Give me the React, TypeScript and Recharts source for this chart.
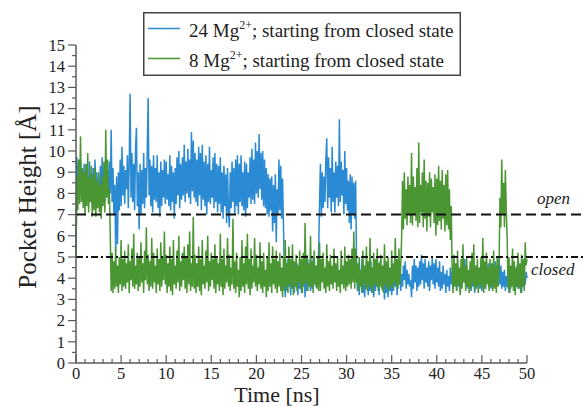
import React from 'react'
import { LineChart, Line, XAxis, YAxis, ReferenceLine, Legend } from 'recharts'

// pocket height [Å] sampled every 0.1 ns, 0..50 ns (one row = 1 ns)
const STEP = 0.1

// 24 Mg2+, starting from closed state
const mg24 = [
  5.0, 9.7, 8.1, 9.3, 7.9, 9.6, 8.4, 9.0, 7.7, 9.4,
  8.0, 9.1, 7.6, 8.8, 7.8, 9.5, 8.2, 8.9, 7.5, 9.2,
  7.9, 9.6, 8.3, 9.0, 7.4, 8.7, 8.0, 9.3, 7.7, 9.7,
  8.1, 8.9, 7.6, 9.4, 8.2, 9.1, 7.8, 9.5, 8.0, 11.0,
  7.6, 9.2, 7.0, 8.4, 5.3, 8.8, 5.6, 9.0, 7.2, 9.6,
  7.4, 10.2, 7.9, 9.3, 7.5, 9.1, 8.2, 9.8, 7.3, 9.5,
  12.7, 7.8, 9.9, 7.6, 9.4, 7.2, 10.1, 11.1, 7.4, 9.0,
  6.3, 9.4, 7.0, 9.1, 7.5, 9.9, 7.3, 9.2, 7.8, 10.0,
  12.5, 7.9, 9.6, 7.4, 9.3, 7.1, 9.8, 7.7, 9.2, 7.6,
  9.8, 7.3, 9.0, 6.9, 9.5, 7.4, 9.1, 7.8, 9.6, 7.5,
  9.5, 7.7, 8.9, 7.4, 9.8, 7.2, 9.3, 7.6, 9.0, 6.8,
  9.2, 7.5, 9.7, 7.9, 10.0, 7.3, 9.4, 7.7, 9.7, 7.9,
  10.3, 7.6, 9.5, 8.0, 10.1, 7.8, 9.6, 7.5, 10.9, 8.1,
  10.5, 7.8, 9.9, 7.6, 9.6, 7.4, 10.2, 7.9, 9.9, 7.2,
  10.3, 7.7, 9.5, 7.4, 9.8, 7.0, 9.4, 7.6, 10.2, 7.5,
  9.1, 7.8, 9.7, 7.3, 9.9, 7.6, 9.4, 7.1, 9.3, 7.5,
  9.7, 7.1, 9.0, 6.8, 9.3, 7.4, 8.9, 6.6, 9.2, 7.2,
  6.4, 9.0, 7.3, 9.5, 7.6, 9.2, 7.0, 9.6, 7.4, 9.8,
  7.0, 9.4, 7.6, 9.8, 7.4, 9.0, 7.2, 9.5, 6.9, 9.4,
  7.3, 9.0, 7.8, 9.7, 7.5, 10.1, 7.7, 9.6, 7.5, 10.4,
  8.0, 10.0, 7.8, 10.8, 8.2, 9.9, 7.7, 10.0, 7.4, 9.6,
  7.3, 9.2, 7.0, 8.9, 6.9, 8.7, 7.2, 8.8, 6.2, 8.4,
  6.6, 8.9, 5.7, 8.2, 7.0, 9.6, 7.2, 9.3, 6.8, 8.7,
  6.5, 4.2, 3.1, 4.6, 3.4, 4.9, 3.6, 4.3, 3.2, 4.5,
  3.5, 4.8, 3.3, 4.1, 3.6, 4.7, 3.2, 4.4, 3.5, 4.0,
  3.3, 4.7, 3.6, 4.2, 3.1, 4.5, 3.4, 4.9, 3.7, 4.3,
  3.4, 4.6, 3.5, 5.0, 3.8, 4.4, 3.6, 4.6, 3.9, 5.3,
  7.5, 9.4, 6.9, 9.0, 7.3, 8.8, 7.6, 9.6, 10.6, 7.3,
  9.7, 7.8, 9.2, 7.1, 10.2, 7.6, 9.0, 7.1, 9.5, 7.8,
  9.3, 7.4, 11.5, 7.6, 9.5, 7.9, 9.1, 7.0, 10.0, 7.5,
  9.2, 7.2, 8.6, 6.6, 8.9, 6.3, 8.8, 7.0, 8.5, 6.8,
  8.6, 4.8, 3.4, 4.5, 3.2, 4.2, 3.6, 4.9, 3.3, 4.4,
  3.1, 4.0, 3.5, 4.6, 3.2, 4.1, 3.4, 4.8, 3.3, 4.3,
  3.1, 4.0, 3.4, 4.7, 3.6, 4.4, 3.2, 4.8, 3.7, 4.5,
  3.4, 4.2, 3.0, 3.9, 3.3, 4.3, 3.1, 4.0, 3.4, 4.1,
  3.2, 4.0, 3.4, 4.7, 3.6, 4.4, 3.2, 4.8, 3.7, 4.5,
  3.4, 4.2, 3.6, 4.6, 3.9, 4.8, 3.5, 4.4, 3.7, 4.2,
  3.6, 3.9, 3.1, 4.6, 3.5, 4.9, 3.8, 4.6, 3.4, 4.5,
  3.6, 4.8, 3.7, 5.1, 3.9, 4.7, 3.5, 4.9, 3.8, 4.5,
  3.6, 4.8, 3.4, 4.6, 3.9, 5.0, 3.7, 4.7, 3.5, 4.9,
  3.8, 4.5, 3.6, 4.8, 3.4, 4.3, 3.5, 4.6, 3.7, 4.2,
  3.3, 4.4, 3.6, 4.1, 3.4, 4.5, 3.7, 4.3, 3.5, 4.6,
  3.8, 4.2, 3.4, 4.7, 3.6, 4.4, 3.3, 4.5, 3.7, 4.8,
  3.9, 4.9, 3.8, 4.6, 3.5, 4.3, 3.6, 4.4, 3.4, 4.1,
  3.6, 4.5, 3.3, 4.2, 3.5, 4.4, 3.7, 4.0, 3.5, 4.3,
  3.4, 4.6, 3.6, 4.2, 3.5, 4.5, 3.8, 4.7, 3.6, 4.4,
  3.5, 4.3, 3.7, 4.6, 3.9, 4.8, 3.6, 4.4, 3.8, 4.9,
  3.7, 4.6, 3.5, 4.3, 3.6, 4.4, 3.4, 4.1, 3.6, 4.5,
  3.3, 4.2, 3.5, 4.4, 3.7, 4.0, 3.4, 4.3, 3.6, 4.6,
  3.5, 4.2, 3.8, 4.5, 3.3, 4.4, 3.6, 4.1, 3.7, 4.3,
  4.0,
]

// 8 Mg2+, starting from closed state
const mg8 = [
  5.0, 8.8, 7.2, 9.6, 7.5, 10.7, 7.6, 9.2, 7.3, 9.0,
  7.0, 9.4, 7.4, 9.9, 7.1, 8.7, 7.6, 9.3, 6.9, 8.9,
  7.2, 9.2, 6.9, 8.6, 7.3, 9.0, 7.1, 8.4, 6.8, 8.8,
  7.4, 9.5, 7.1, 11.0, 7.8, 9.6, 7.5, 8.2, 6.0, 3.4,
  5.2, 3.3, 4.8, 3.5, 5.5, 3.6, 4.6, 3.3, 5.0, 3.7,
  5.8, 3.4, 4.9, 3.6, 5.3, 3.5, 4.7, 3.8, 5.6, 3.3,
  4.8, 3.9, 5.4, 3.6, 6.1, 3.5, 4.6, 3.7, 5.2, 3.4,
  5.0, 3.6, 5.7, 3.8, 4.7, 3.3, 5.3, 3.9, 6.4, 3.7,
  5.1, 3.4, 4.8, 3.6, 5.9, 3.5, 5.2, 3.8, 4.6, 3.3,
  5.4, 3.7, 4.9, 3.4, 5.7, 3.6, 5.0, 3.9, 6.2, 3.7,
  5.1, 3.3, 4.7, 3.6, 5.5, 3.4, 4.9, 3.2, 5.8, 3.7,
  4.6, 3.5, 5.3, 3.8, 6.0, 3.4, 4.8, 3.6, 5.2, 3.9,
  5.5, 3.5, 5.0, 3.3, 5.6, 3.7, 6.2, 3.4, 4.7, 3.6,
  6.9, 3.5, 5.1, 3.3, 4.7, 3.6, 5.5, 3.4, 4.9, 3.2,
  5.8, 3.7, 4.6, 3.5, 5.3, 3.8, 6.0, 3.4, 4.8, 3.6,
  5.2, 3.9, 4.9, 3.5, 5.6, 3.3, 5.0, 3.7, 4.7, 3.4,
  6.1, 3.6, 4.9, 3.2, 5.4, 3.5, 4.6, 3.8, 5.9, 3.6,
  5.1, 3.4, 4.5, 3.7, 6.8, 3.5, 4.8, 3.3, 5.2, 3.6,
  4.4, 3.1, 5.0, 3.4, 5.8, 3.6, 4.7, 3.3, 5.5, 3.7,
  6.1, 3.5, 4.9, 3.2, 5.4, 3.5, 4.6, 3.8, 5.9, 3.6,
  5.1, 3.4, 4.5, 3.7, 5.7, 3.5, 4.8, 3.3, 5.2, 3.6,
  4.4, 3.1, 5.0, 3.4, 5.7, 3.6, 4.7, 3.3, 5.5, 3.7,
  4.9, 3.5, 5.3, 3.3, 4.8, 3.6, 5.2, 3.4, 4.5, 3.1,
  5.0, 3.4, 5.8, 3.6, 4.7, 3.3, 5.5, 3.7, 4.9, 3.5,
  5.6, 3.2, 4.8, 3.6, 5.1, 3.4, 4.6, 3.8, 5.3, 3.5,
  4.9, 3.3, 5.2, 3.7, 6.6, 3.8, 5.1, 3.4, 4.7, 3.6,
  6.0, 3.6, 4.8, 3.3, 5.3, 3.7, 4.6, 3.5, 5.0, 3.4,
  5.7, 3.4, 4.9, 3.8, 5.2, 3.5, 4.5, 3.3, 5.6, 3.6,
  4.8, 3.4, 5.1, 3.7, 4.6, 3.5, 5.4, 3.8, 4.7, 3.4,
  5.0, 3.6, 4.4, 3.3, 5.3, 3.7, 4.6, 3.5, 5.5, 3.4,
  4.8, 3.6, 5.1, 3.7, 4.9, 3.5, 5.4, 3.8, 6.2, 3.5,
  5.4, 3.8, 4.7, 3.4, 5.0, 3.6, 4.4, 3.3, 5.3, 3.7,
  4.6, 3.5, 5.5, 3.4, 4.8, 3.6, 5.9, 3.5, 4.5, 3.3,
  5.2, 3.7, 4.9, 3.6, 5.4, 3.4, 4.7, 3.6, 5.1, 3.5,
  4.6, 3.3, 5.6, 3.7, 4.8, 3.5, 5.0, 3.4, 4.5, 3.6,
  5.3, 3.5, 4.7, 3.8, 5.9, 3.6, 4.9, 3.5, 5.4, 3.7,
  4.6, 5.9, 8.6, 6.3, 9.0, 6.8, 8.2, 6.5, 8.8, 7.0,
  8.4, 6.6, 9.9, 6.5, 8.8, 7.0, 8.3, 6.7, 9.2, 6.4,
  10.4, 6.6, 8.4, 7.1, 9.0, 6.4, 9.6, 6.8, 8.6, 6.2,
  8.5, 6.9, 9.0, 6.4, 8.7, 7.1, 8.3, 6.6, 8.9, 6.0,
  8.7, 6.5, 9.3, 6.7, 8.6, 6.3, 9.1, 6.8, 8.4, 6.2,
  8.9, 6.5, 9.1, 6.3, 8.2, 5.8, 7.4, 4.4, 3.3, 5.1,
  3.6, 4.7, 3.4, 5.3, 3.7, 4.5, 3.2, 4.9, 3.5, 5.6,
  3.8, 4.6, 3.4, 5.0, 3.6, 4.4, 3.3, 4.8, 3.5, 5.2,
  3.7, 5.6, 3.4, 4.6, 3.6, 4.9, 3.3, 4.5, 3.7, 5.0,
  3.5, 5.9, 3.3, 4.8, 3.5, 5.2, 3.7, 4.5, 3.4, 4.9,
  3.6, 4.7, 3.4, 5.3, 3.5, 4.6, 3.3, 5.0, 3.6, 4.4,
  7.8, 6.4, 9.6, 7.0, 8.5, 6.4, 9.1, 7.2, 5.9, 3.5,
  5.0, 3.3, 4.6, 3.6, 5.4, 3.4, 4.8, 3.2, 4.5, 3.6,
  5.2, 3.5, 4.7, 3.3, 5.1, 3.6, 4.9, 3.4, 5.7, 4.6,
  4.9,
]

const xTicks = [
  0, 1, 2, 3, 4, 5, 6, 7, 8, 9, 10, 11, 12, 13, 14, 15, 16, 17, 18, 19, 20, 21, 22, 23, 24, 25,
  26, 27, 28, 29, 30, 31, 32, 33, 34, 35, 36, 37, 38, 39, 40, 41, 42, 43, 44, 45, 46, 47, 48, 49, 50,
]
const yTicks = [
  0, 0.5, 1, 1.5, 2, 2.5, 3, 3.5, 4, 4.5, 5, 5.5, 6, 6.5, 7, 7.5,
  8, 8.5, 9, 9.5, 10, 10.5, 11, 11.5, 12, 12.5, 13, 13.5, 14, 14.5, 15,
]

const OPEN_Y = 7
const CLOSED_Y = 5

const W = 584
const H = 406
const X_AXIS_H = 43
const Y_AXIS_W = 76
const TOP = 45
const PLOT_BOTTOM = H - X_AXIS_H

const BLUE = '#2a8ad3'
const GREEN = '#4a9633'
const AXIS = '#5a5a5a'
const FONT = "'Liberation Serif', 'Times New Roman', serif"

const rows = mg24.map((v, i) => ({ t: Math.round(i * STEP * 10) / 10, mg24: v, mg8: mg8[i] }))

const BottomTick = ({ x, payload }: any) => {
  const major = payload.value % 5 === 0
  return (
    <g>
      <line x1={x} x2={x} y1={PLOT_BOTTOM} y2={PLOT_BOTTOM - (major ? 8 : 4)} stroke={AXIS} strokeWidth={1.2} />
      {major && (
        <text x={x} y={PLOT_BOTTOM + 16} textAnchor="middle" style={{ fontFamily: FONT }} fontSize={16.5} fill="#222">
          {payload.value}
        </text>
      )}
    </g>
  )
}

const TopTick = ({ x, payload }: any) => {
  const major = payload.value % 5 === 0
  return <line x1={x} x2={x} y1={TOP} y2={TOP + (major ? 8 : 4)} stroke={AXIS} strokeWidth={1.2} />
}

const LeftTick = ({ y, payload }: any) => {
  const major = Number.isInteger(payload.value)
  return (
    <g>
      <line x1={Y_AXIS_W - (major ? 8 : 4)} x2={Y_AXIS_W} y1={y} y2={y} stroke={AXIS} strokeWidth={1.2} />
      {major && (
        <text x={Y_AXIS_W - 11} y={y} dy="0.35em" textAnchor="end" style={{ fontFamily: FONT }} fontSize={16.5} fill="#222">
          {payload.value}
        </text>
      )}
    </g>
  )
}

const LegendBox = () => (
  <svg width={318} height={64} style={{ display: 'block' }}>
    <rect x={0.75} y={0.75} width={316.5} height={62.5} fill="#fff" stroke="#444" strokeWidth={1.5} />
    <line x1={5} x2={37} y1={16.5} y2={16.5} stroke={BLUE} strokeWidth={1.5} />
    <line x1={5} x2={37} y1={46.5} y2={46.5} stroke={GREEN} strokeWidth={1.5} />
    <text x={46} y={25} style={{ fontFamily: FONT }} fontSize={19} fill="#222">
      24 Mg<tspan fontSize={12} dy={-8}>2+</tspan>
      <tspan dy={8}>; starting from closed state</tspan>
    </text>
    <text x={46} y={55} style={{ fontFamily: FONT }} fontSize={19} fill="#222">
      8 Mg<tspan fontSize={12} dy={-8}>2+</tspan>
      <tspan dy={8}>; starting from closed state</tspan>
    </text>
  </svg>
)

const stateLine = (label: string, dash: string, dx: number, dy: number) => (props: any) => (
  <g>
    <line x1={props.x1} x2={W} y1={props.y1} y2={props.y2} stroke="#111" strokeWidth={2} strokeDasharray={dash} />
    <text x={props.x2 + dx} y={props.y1 + dy} style={{ fontFamily: FONT }} fontStyle="italic" fontSize={17} fill="#222">
      {label}
    </text>
  </g>
)

export default function App() {
  return (
    <div style={{ position: 'absolute', left: 0, top: 0, width: W, height: H, background: '#fff' }}>
      <LineChart width={W} height={H} data={rows} margin={{ top: TOP, right: 57, bottom: 0, left: 0 }}>
        <XAxis
          dataKey="t"
          type="number"
          domain={[0, 50]}
          ticks={xTicks}
          interval={0}
          height={X_AXIS_H}
          tickLine={false}
          axisLine={{ stroke: AXIS, strokeWidth: 1.5 }}
          tick={BottomTick}
          label={() => (
            <text x={277} y={402} textAnchor="middle" style={{ fontFamily: FONT }} fontSize={22} fill="#222">
              Time [ns]
            </text>
          )}
        />
        <XAxis
          xAxisId="top"
          orientation="top"
          dataKey="t"
          type="number"
          domain={[0, 50]}
          ticks={xTicks}
          interval={0}
          height={0}
          tickLine={false}
          axisLine={{ stroke: AXIS, strokeWidth: 1.5 }}
          tick={TopTick}
        />
        <YAxis
          type="number"
          domain={[0, 15]}
          ticks={yTicks}
          interval={0}
          width={Y_AXIS_W}
          tickLine={false}
          axisLine={{ stroke: AXIS, strokeWidth: 1.5 }}
          tick={LeftTick}
          label={() => (
            <text
              x={36}
              y={197}
              transform="rotate(-90 36 197)"
              textAnchor="middle"
              style={{ fontFamily: FONT }}
              fontSize={25}
              fill="#222"
            >
              Pocket Height [Å]
            </text>
          )}
        />
        <YAxis
          yAxisId="right"
          orientation="right"
          type="number"
          domain={[0, 15]}
          width={0}
          tick={false}
          tickLine={false}
          axisLine={{ stroke: AXIS, strokeWidth: 1.5 }}
        />
        <Line
          dataKey="mg24"
          stroke={BLUE}
          strokeWidth={1.5}
          dot={false}
          activeDot={false}
          isAnimationActive={false}
        />
        <Line
          dataKey="mg8"
          stroke={GREEN}
          strokeWidth={1.5}
          dot={false}
          activeDot={false}
          isAnimationActive={false}
        />
        <ReferenceLine y={OPEN_Y} shape={stateLine('open', '10 5', 10, -11)} />
        <ReferenceLine y={CLOSED_Y} shape={stateLine('closed', '7 3 2 3', 4, 18)} />
        <Legend
          layout="horizontal"
          verticalAlign="middle"
          align="center"
          content={LegendBox}
          wrapperStyle={{ top: 12, left: 143, width: 318, height: 64 }}
        />
      </LineChart>
    </div>
  )
}
